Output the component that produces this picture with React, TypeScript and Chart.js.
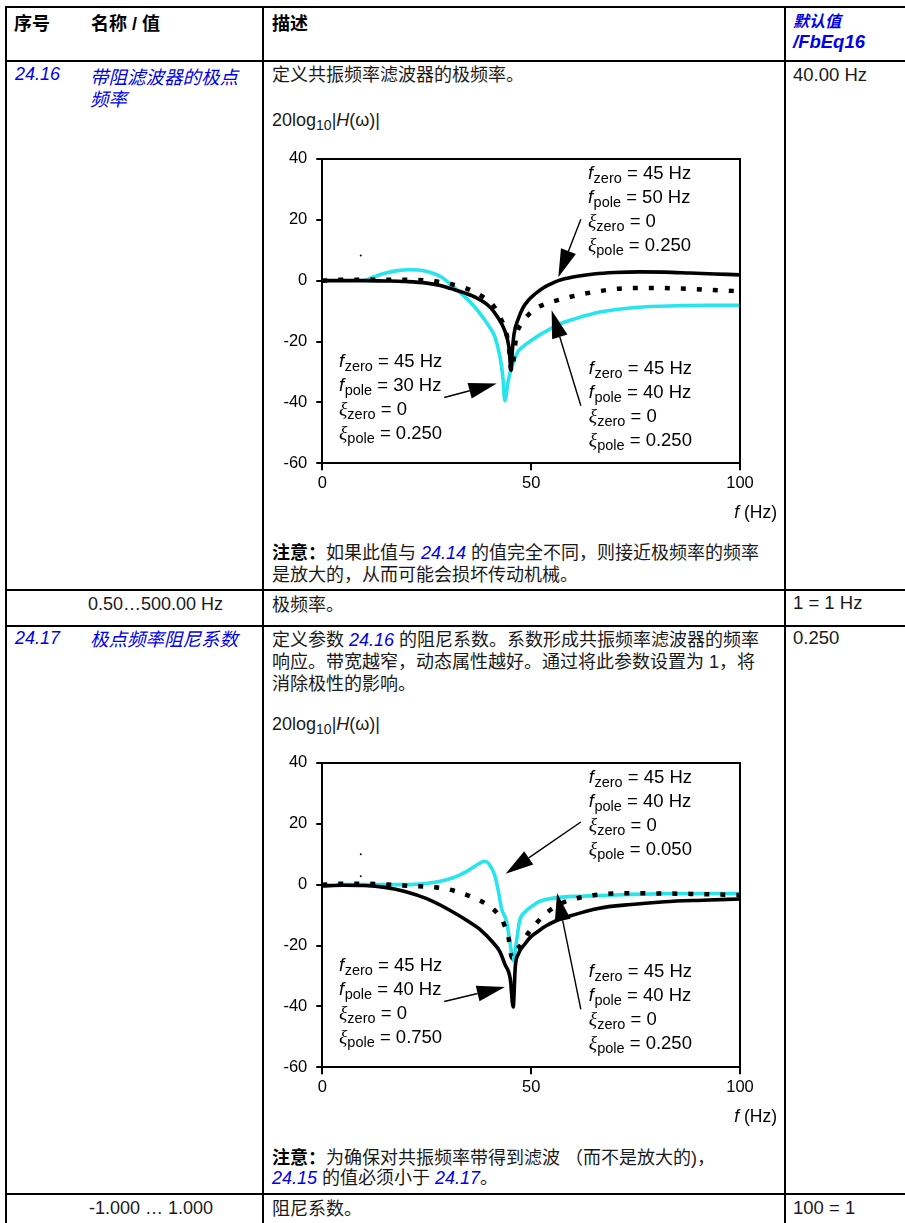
import React, { useEffect, useRef } from 'react';
import { Chart, registerables } from 'chart.js';

Chart.register(...registerables);

const BLUE = 'rgb(0,0,235)';
const CYAN = 'rgb(40,228,238)';
const FONT = '"Liberation Sans", Arial, "Noto Sans CJK SC", sans-serif';

// ---------- axis ticks ----------
const X_TICKS = [0, 50, 100];
const Y_TICKS = [-60, -40, -20, 0, 20, 40];

// ---------- chart 1 (24.16): f in Hz, gain in dB ----------
const C1_POLE50_X = [0, 5, 10, 15, 20, 25, 28, 31, 34, 37, 40, 42, 43.7, 44.7, 45.2, 45.5, 45.9, 46.9, 48, 49.3, 51, 52.5, 54.5, 56.5, 60, 65, 70, 76, 82, 88, 94, 100];
const C1_POLE50_Y = [0, 0, 0, -0.1, -0.3, -0.8, -1.5, -2.7, -4, -5.7, -8.5, -12, -16.5, -22, -29.5, -23, -17.5, -12.6, -9, -6.5, -4.3, -2.7, -1.2, 0, 1.2, 2.2, 2.7, 2.9, 2.8, 2.5, 2.2, 1.9];

const C1_POLE40_X = [0, 5, 10, 15, 20, 25, 27.4, 31, 34.2, 38.2, 40.9, 42.5, 43.7, 44.6, 45.3, 46.5, 47.8, 49.3, 51.3, 54.1, 57.5, 61.3, 66, 72.5, 79, 86, 93, 100];
const C1_POLE40_Y = [0, 0.3, 0.3, 0.3, 0.3, 0.1, -0.3, -1.2, -2.4, -5.1, -8.1, -11.9, -15.7, -21, -29.7, -17.8, -14, -11.3, -9, -7.3, -6, -4.7, -3.5, -2.5, -2.4, -2.6, -3, -3.5];

const C1_POLE30_X = [10, 12.5, 15, 18, 21, 24.6, 28.6, 31, 33.5, 35.4, 37.2, 38.9, 40.2, 41.3, 42.5, 43.2, 43.7, 44.5, 45.4, 46.9, 48.3, 49.7, 51.5, 53.3, 56.9, 61, 66.5, 72, 78.4, 86, 93, 100];
const C1_POLE30_Y = [0, 1.3, 2.4, 3.3, 3.6, 3.2, 1.1, -1.6, -4.5, -7, -9.8, -12.9, -15.6, -18.4, -24.8, -31.3, -39.4, -33, -28, -23.2, -21.4, -20, -18.3, -16.8, -14.2, -12.3, -10.3, -9.2, -8.5, -8.2, -8.1, -8.1];

const C1_SPECK_X = [9.2];
const C1_SPECK_Y = [8.3];

// ---------- chart 2 (24.17) ----------
const C2_XI075_X = [0, 5, 10, 15, 20, 25, 30, 35, 38, 40.6, 42.5, 43.7, 45, 45.7, 46.2, 46.9, 48.5, 50, 51.7, 53.5, 55.6, 60, 66, 74, 82, 91, 100];
const C2_XI075_Y = [-0.4, -0.2, -0.3, -0.9, -2.3, -4.6, -8, -12.1, -15, -18.6, -22, -26.1, -31, -40.2, -27, -22.9, -19.5, -17, -15.3, -13.6, -12.1, -10, -7.8, -6.5, -5.6, -5.1, -4.7];

const C2_XI025_X = [0, 5, 10, 15, 20.6, 25, 29.4, 32.5, 35.7, 39.6, 42, 43.5, 44.6, 45.4, 46.3, 47.3, 49.3, 51.3, 54.1, 58.1, 61.5, 65.3, 73.9, 82, 91, 100];
const C2_XI025_Y = [0, 0.3, 0.3, 0.1, -0.4, -0.7, -1.3, -2.4, -4, -6.7, -9.6, -13, -17.5, -24, -21.5, -20.2, -15.9, -12.6, -8.8, -5.6, -4.3, -3.4, -2.8, -2.9, -3.1, -3.4];

const C2_XI005_X = [3.4, 8, 13, 18, 22, 26.2, 29.5, 32.6, 35, 37.4, 38.8, 39.8, 41.3, 42.2, 42.9, 44.1, 44.9, 45.7, 46.5, 47.2, 48.5, 50.1, 52, 54.9, 58, 62, 66, 74, 82, 91, 100];
const C2_XI005_Y = [0, 0, 0, 0, 0.1, 0.6, 1.5, 3, 4.7, 6.8, 7.7, 7, 3, -2.5, -7.8, -12.1, -18.6, -25, -18.6, -12.1, -9, -7.2, -5.5, -4.5, -4, -3.8, -3.6, -3.2, -3, -2.9, -2.9];

const C2_SPECK_X = [9.2, 9.2];
const C2_SPECK_Y = [10, 2.8];

// ---------- annotation texts ----------
const NOTE_SYMS = ['f', 'f', 'ξ', 'ξ'];
const NOTE_SUBS = ['zero', 'pole', 'zero', 'pole'];
const C1_NOTE_A = ['45 Hz', '50 Hz', '0', '0.250'];
const C1_NOTE_B = ['45 Hz', '30 Hz', '0', '0.250'];
const C1_NOTE_C = ['45 Hz', '40 Hz', '0', '0.250'];
const C2_NOTE_D = ['45 Hz', '40 Hz', '0', '0.050'];
const C2_NOTE_E = ['45 Hz', '40 Hz', '0', '0.750'];
const C2_NOTE_F = ['45 Hz', '40 Hz', '0', '0.250'];

type Note = { at: [number, number]; values: string[] };
type Arrow = { from: [number, number]; to: [number, number] };

const C1_NOTES: Note[] = [
  { at: [63.6, 35.4], values: C1_NOTE_A },
  { at: [4.0, -26.2], values: C1_NOTE_B },
  { at: [63.8, -28.4], values: C1_NOTE_C },
];
const C1_ARROWS: Arrow[] = [
  { from: [61.9, 20.2], to: [56.5, 1.1] },
  { from: [29.2, -38.4], to: [41.75, -33.8] },
  { from: [61.9, -41.1], to: [54.9, -9.7] },
];
const C2_NOTES: Note[] = [
  { at: [63.8, 35.5], values: C2_NOTE_D },
  { at: [4.0, -26.1], values: C2_NOTE_E },
  { at: [63.8, -28.3], values: C2_NOTE_F },
];
const C2_ARROWS: Arrow[] = [
  { from: [61.9, 20.6], to: [43.9, 3.6] },
  { from: [29.2, -38.4], to: [43.7, -33.6] },
  { from: [61.9, -41.0], to: [56.2, -2.7] },
];

const pts = (xs: number[], ys: number[]) => xs.map((x, i) => ({ x, y: ys[i] }));

type ChartSpec = {
  solid: [number[], number[]];
  dotted: [number[], number[]];
  cyan: [number[], number[]];
  specks: [number[], number[]];
  notes: Note[];
  arrows: Arrow[];
};

function drawArrow(ctx: CanvasRenderingContext2D, x1: number, y1: number, x2: number, y2: number) {
  const dx = x2 - x1, dy = y2 - y1;
  const len = Math.hypot(dx, dy);
  const ux = dx / len, uy = dy / len;
  const L = 28, W = 8;
  const bx = x2 - ux * L, by = y2 - uy * L;
  ctx.beginPath();
  ctx.moveTo(x1, y1);
  ctx.lineTo(bx, by);
  ctx.lineWidth = 1.4;
  ctx.strokeStyle = '#000';
  ctx.stroke();
  ctx.beginPath();
  ctx.moveTo(x2, y2);
  ctx.lineTo(bx - uy * W, by + ux * W);
  ctx.lineTo(bx + uy * W, by - ux * W);
  ctx.closePath();
  ctx.fillStyle = '#000';
  ctx.fill();
}

function makePlugin(notes: Note[], arrows: Arrow[]) {
  return {
    id: 'notesAndFrame',
    afterDatasetsDraw(chart: any) {
      const { ctx, chartArea: a } = chart;
      const xs = chart.scales.x;
      const ys = chart.scales.y;
      ctx.save();
      // frame (top and right)
      ctx.strokeStyle = '#000';
      ctx.lineWidth = 2;
      ctx.beginPath();
      ctx.moveTo(a.left - 1, a.top);
      ctx.lineTo(a.right, a.top);
      ctx.lineTo(a.right, a.bottom + 1);
      ctx.stroke();

      // arrows
      for (const ar of arrows) {
        drawArrow(
          ctx,
          xs.getPixelForValue(ar.from[0]), ys.getPixelForValue(ar.from[1]),
          xs.getPixelForValue(ar.to[0]), ys.getPixelForValue(ar.to[1])
        );
      }

      // notes
      ctx.fillStyle = '#000';
      ctx.textBaseline = 'alphabetic';
      ctx.textAlign = 'left';
      for (const n of notes) {
        const px = xs.getPixelForValue(n.at[0]);
        const py0 = ys.getPixelForValue(n.at[1]);
        for (let i = 0; i < 4; i++) {
          const base = py0 + i * 24 + 6.5;
          let cx = px;
          const sym = NOTE_SYMS[i];
          ctx.font = sym === 'f' ? `italic 18.5px ${FONT}` : `italic 19.5px "Liberation Serif", serif`;
          ctx.fillText(sym, cx, base);
          cx += ctx.measureText(sym).width + (sym === 'f' ? 0.5 : 0);
          ctx.font = `14.5px ${FONT}`;
          ctx.fillText(NOTE_SUBS[i], cx, base + 4);
          cx += ctx.measureText(NOTE_SUBS[i]).width;
          ctx.font = `18.5px ${FONT}`;
          ctx.fillText(' = ' + n.values[i], cx, base);
        }
      }

      // axis label f (Hz)
      ctx.textAlign = 'right';
      const by = a.bottom + 48.7 + 6;
      ctx.font = `17.5px ${FONT}`;
      const rest = ' (Hz)';
      const rx = chart.width - 6;
      ctx.fillText(rest, rx, by);
      const w = ctx.measureText(rest).width;
      ctx.font = `italic 17.5px ${FONT}`;
      ctx.fillText('f', rx - w, by);
      ctx.restore();
    },
  };
}

function FilterChart({ spec, left, top }: { spec: ChartSpec; left: number; top: number }) {
  const ref = useRef<HTMLCanvasElement | null>(null);
  useEffect(() => {
    if (!ref.current) return;
    const common = { pointRadius: 0, fill: false, cubicInterpolationMode: 'monotone' as const, borderCapStyle: 'butt' as const };
    const chart = new Chart(ref.current, {
      type: 'line',
      data: {
        datasets: [
          { ...common, label: 'dotted', data: pts(spec.dotted[0], spec.dotted[1]), borderColor: '#000', borderWidth: 4.5, borderDash: [5, 11], order: 0 },
          { ...common, label: 'solid', data: pts(spec.solid[0], spec.solid[1]), borderColor: '#000', borderWidth: 3.6, order: 1 },
          { ...common, label: 'cyan', data: pts(spec.cyan[0], spec.cyan[1]), borderColor: CYAN, borderWidth: 3.6, order: 2 },
          { label: 'specks', data: pts(spec.specks[0], spec.specks[1]), showLine: false, pointRadius: 1, pointBorderWidth: 0, pointBackgroundColor: '#000', order: 3 } as any,
        ],
      },
      options: {
        animation: false,
        responsive: false,
        maintainAspectRatio: false,
        events: [],
        layout: { padding: { top: 15, right: 43, left: 0, bottom: 0 } },
        plugins: { legend: { display: false }, tooltip: { enabled: false }, title: { display: false } },
        scales: {
          x: {
            type: 'linear',
            min: X_TICKS[0],
            max: X_TICKS[X_TICKS.length - 1],
            afterFit: (s: any) => { s.height = 61.7; },
            ticks: { stepSize: X_TICKS[1] - X_TICKS[0], color: '#000', font: { size: 16.5, family: FONT }, padding: 3, maxRotation: 0, autoSkip: false },
            grid: { drawOnChartArea: false, drawTicks: true, tickLength: 7, color: '#000', lineWidth: 2 },
            border: { display: true, color: '#000', width: 2 },
          },
          y: {
            type: 'linear',
            min: Y_TICKS[0],
            max: Y_TICKS[Y_TICKS.length - 1],
            afterFit: (s: any) => { s.width = 57.3; },
            ticks: { stepSize: Y_TICKS[1] - Y_TICKS[0], color: '#000', font: { size: 16.5, family: FONT }, padding: 9 },
            grid: { drawOnChartArea: false, drawTicks: true, tickLength: 6, color: '#000', lineWidth: 2 },
            border: { display: true, color: '#000', width: 2 },
          },
        },
      } as any,
      plugins: [makePlugin(spec.notes, spec.arrows)],
    });
    return () => chart.destroy();
  }, [spec]);
  return (
    <canvas
      ref={ref}
      width={518}
      height={385}
      style={{ position: 'absolute', left, top, width: 518, height: 385 }}
    />
  );
}

const SPEC1: ChartSpec = {
  solid: [C1_POLE50_X, C1_POLE50_Y],
  dotted: [C1_POLE40_X, C1_POLE40_Y],
  cyan: [C1_POLE30_X, C1_POLE30_Y],
  specks: [C1_SPECK_X, C1_SPECK_Y],
  notes: C1_NOTES,
  arrows: C1_ARROWS,
};
const SPEC2: ChartSpec = {
  solid: [C2_XI075_X, C2_XI075_Y],
  dotted: [C2_XI025_X, C2_XI025_Y],
  cyan: [C2_XI005_X, C2_XI005_Y],
  specks: [C2_SPECK_X, C2_SPECK_Y],
  notes: C2_NOTES,
  arrows: C2_ARROWS,
};

const Txt = ({ x, y, children, style }: { x: number; y: number; children: any; style?: any }) => (
  <div style={{ position: 'absolute', left: x, top: y - 11, lineHeight: '22px', whiteSpace: 'nowrap', ...style }}>{children}</div>
);

const B = ({ children }: any) => <span style={{ color: BLUE, fontStyle: 'italic' }}>{children}</span>;

const HRULES = [6, 60, 589, 625, 1193];
const VRULES = [5, 262, 784];

const YTitle = ({ y }: { y: number }) => (
  <Txt x={272} y={y}>
    20log<span style={{ fontSize: 14, position: 'relative', top: 4 }}>10</span>|<i>H</i>(ω)|
  </Txt>
);

const NAME = { fontSize: 18.5 };

export default function App() {
  return (
    <div
      style={{
        position: 'absolute', left: 0, top: 0, width: 905, height: 1223, overflow: 'hidden',
        background: '#fff', fontFamily: FONT, fontSize: 18, color: '#1a1a1a',
      }}
    >
      {HRULES.map((t) => (
        <div key={'h' + t} style={{ position: 'absolute', left: 5, top: t, width: 900, height: 2, background: '#000' }} />
      ))}
      {VRULES.map((l) => (
        <div key={'v' + l} style={{ position: 'absolute', left: l, top: 6, width: 2, height: 1217, background: '#000' }} />
      ))}

      {/* header */}
      <Txt x={14} y={24} style={{ fontWeight: 'bold', color: '#000' }}>序号</Txt>
      <Txt x={91} y={24} style={{ fontWeight: 'bold', color: '#000' }}>名称 / 值</Txt>
      <Txt x={272} y={24} style={{ fontWeight: 'bold', color: '#000' }}>描述</Txt>
      <Txt x={793} y={22} style={{ fontWeight: 'bold', fontStyle: 'italic', color: BLUE, fontSize: 16 }}>默认值</Txt>
      <Txt x={793} y={42} style={{ fontWeight: 'bold', fontStyle: 'italic', color: BLUE, fontSize: 18.5 }}>/FbEq16</Txt>

      {/* 24.16 */}
      <Txt x={15} y={74}><B>24.16</B></Txt>
      <Txt x={90} y={78} style={NAME}><B>带阻滤波器的极点</B></Txt>
      <Txt x={90} y={100} style={NAME}><B>频率</B></Txt>
      <Txt x={272} y={75}>定义共振频率滤波器的极频率。</Txt>
      <Txt x={793} y={75} style={{ fontSize: 18.5 }}>40.00 Hz</Txt>
      <YTitle y={120} />
      <FilterChart spec={SPEC1} left={265} top={140} />
      <Txt x={272} y={553}><b style={{ color: '#000' }}>注意：</b>如果此值与 <B>24.14</B> 的值完全不同，则接近极频率的频率</Txt>
      <Txt x={272} y={575}>是放大的，从而可能会损坏传动机械。</Txt>

      {/* range row */}
      <Txt x={88} y={604}>0.50…500.00 Hz</Txt>
      <Txt x={272} y={605}>极频率。</Txt>
      <Txt x={793} y={603} style={{ fontSize: 18.5 }}>1 = 1 Hz</Txt>

      {/* 24.17 */}
      <Txt x={15} y={638}><B>24.17</B></Txt>
      <Txt x={90} y={640} style={NAME}><B>极点频率阻尼系数</B></Txt>
      <Txt x={272} y={640}>定义参数 <B>24.16</B> 的阻尼系数。系数形成共振频率滤波器的频率</Txt>
      <Txt x={272} y={662}>响应。带宽越窄，动态属性越好。通过将此参数设置为 1，将</Txt>
      <Txt x={272} y={684}>消除极性的影响。</Txt>
      <Txt x={793} y={638} style={{ fontSize: 18.5 }}>0.250</Txt>
      <YTitle y={724} />
      <FilterChart spec={SPEC2} left={265} top={744} />
      <Txt x={272} y={1158}><b style={{ color: '#000' }}>注意：</b>为确保对共振频率带得到滤波 （而不是放大的)，</Txt>
      <Txt x={272} y={1178}><B>24.15</B> 的值必须小于 <B>24.17</B>。</Txt>

      {/* last row */}
      <Txt x={89} y={1208}>-1.000 … 1.000</Txt>
      <Txt x={272} y={1209}>阻尼系数。</Txt>
      <Txt x={793} y={1208} style={{ fontSize: 18.5 }}>100 = 1</Txt>
    </div>
  );
}
